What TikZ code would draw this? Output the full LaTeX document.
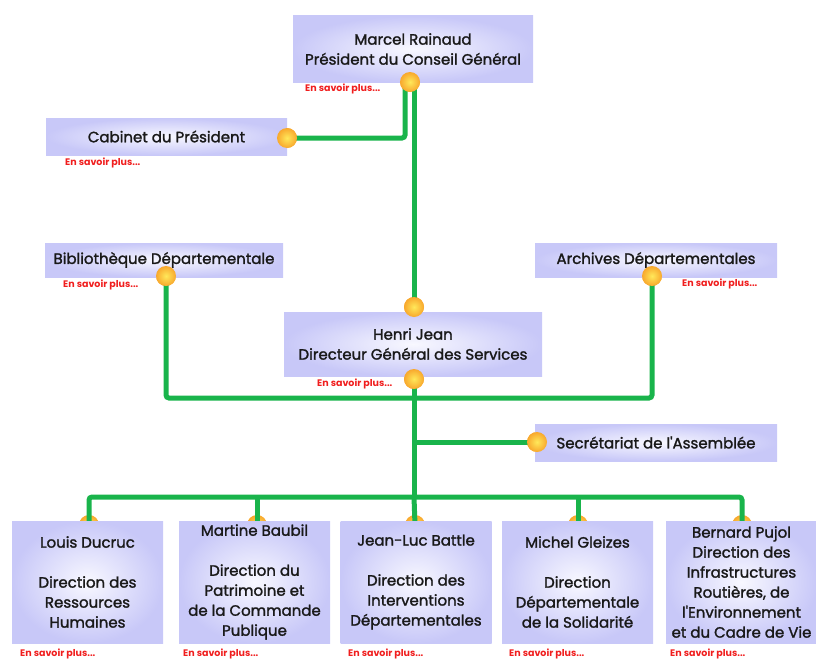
\documentclass[tikz,border=0pt]{standalone}
\usepackage{fontspec}
\setmainfont{Poppins}
\newfontfamily\cardfont{Poppins}[FakeBold=1.6]
\usepackage{tikz}
\usetikzlibrary{calc}
\definecolor{wiregreen}{RGB}{25,180,75}
\definecolor{boxlav}{RGB}{200,200,248}
\definecolor{boxcore}{RGB}{248,248,255}
\definecolor{dotyellow}{RGB}{255,232,90}
\definecolor{dotorange}{RGB}{248,168,45}
\definecolor{moretext}{RGB}{240,30,30}
\definecolor{boxtext}{RGB}{25,25,25}
\tikzstyle{card} = [rectangle, shading=radial, inner color=boxcore, outer color=boxlav, text=boxtext, align=center, font=\cardfont\fontsize{15}{20}\selectfont, inner sep=0pt]
\tikzstyle{dot} = [circle, shading=radial, inner color=dotyellow, outer color=dotorange, minimum size=20pt, inner sep=0pt]
\tikzstyle{wire} = [line width=5pt, color=wiregreen, rounded corners=3pt]
\tikzstyle{more} = [anchor=west, text=moretext, font=\fontsize{9.5}{10}\selectfont\bfseries, inner sep=0pt]

\begin{document}
\begin{tikzpicture}[x=1pt, y=-1pt]
        \useasboundingbox (0, 0) rectangle (816, 661);

        % dots first, so the lower row of cards hides half of them
        \node[dot] at (410, 82) (RainaudDot) {};
        \node[dot] at (287, 138) (CabinetDot) {};
        \node[dot] at (166, 276) (BibliothequeDot) {};
        \node[dot] at (652, 276) (ArchivesDot) {};
        \node[dot] at (414, 307) (JeanTopDot) {};
        \node[dot] at (414, 379) (JeanBottomDot) {};
        \node[dot] at (537, 442) (SecretariatDot) {};
        \node[dot] at (89, 525) (DucrucDot) {};
        \node[dot] at (257, 525) (BaubilDot) {};
        \node[dot] at (415, 525) (BattleDot) {};
        \node[dot] at (578, 525) (GleizesDot) {};
        \node[dot] at (742, 525) (PujolDot) {};

        \draw[wire] ([xshift=-5pt]RainaudDot.center) |- (CabinetDot.center);
        \draw[wire] ([xshift=4pt]RainaudDot.center) -- (JeanTopDot.center);
        \draw[wire] (BibliothequeDot.center) -- ++(0, 122) -| (ArchivesDot.center);
        \draw[wire] (JeanBottomDot.center) -- ++(0, 118) coordinate (Bus);
        \draw[wire] (SecretariatDot.center) -- (SecretariatDot.center -| JeanBottomDot.center);
        \draw[wire] (DucrucDot.center) |- (Bus) -| (PujolDot.center);
        \draw[wire] (BaubilDot.center) -- (BaubilDot.center |- Bus);
        \draw[wire] (BattleDot.center) -- (Bus);
        \draw[wire] (GleizesDot.center) -- (GleizesDot.center |- Bus);

        \node[card, minimum width=240pt, minimum height=66pt] at (413, 49) (Rainaud) {Marcel Rainaud\\Président du Conseil Général};
        \node[card, minimum width=241pt, minimum height=37pt] at (166.5, 136.5) (Cabinet) {Cabinet du Président};
        \node[card, minimum width=238pt, minimum height=34pt] at (164, 260) (Bibliotheque) {Bibliothèque Départementale};
        \node[card, minimum width=242pt, minimum height=34pt] at (656, 260) (Archives) {Archives Départementales};
        \node[card, minimum width=258pt, minimum height=64pt] at (413, 344) (Jean) {Henri Jean\\Directeur Général des Services};
        \node[card, minimum width=242pt, minimum height=37pt] at (656, 442.5) (Secretariat) {Secrétariat de l\textquotesingle Assemblée};
        \node[card, minimum width=151pt, minimum height=122pt] at (87.5, 582) (Ducruc) {Louis Ducruc\\[20pt]Direction des\\Ressources\\Humaines};
        \node[card, minimum width=151pt, minimum height=122pt] at (254.5, 582) (Baubil) {Martine Baubil\\[20pt]Direction du\\Patrimoine et\\de la Commande\\Publique};
        \node[card, minimum width=151pt, minimum height=122pt] at (416, 582) (Battle) {Jean-Luc Battle\\[20pt]Direction des\\Interventions\\Départementales};
        \node[card, minimum width=151pt, minimum height=122pt] at (577.5, 582) (Gleizes) {Michel Gleizes\\[20pt]Direction\\Départementale\\de la Solidarité};
        \node[card, minimum width=151pt, minimum height=122pt] at (741.5, 582) (Pujol) {Bernard Pujol\\Direction des\\Infrastructures\\Routières, de\\l\textquotesingle Environnement\\et du Cadre de Vie};

        % dots that sit over the edge of their card
        \node[dot] at (410, 82) {};
        \node[dot] at (287, 138) {};
        \node[dot] at (166, 276) {};
        \node[dot] at (652, 276) {};
        \node[dot] at (414, 307) {};
        \node[dot] at (414, 379) {};
        \node[dot] at (537, 442) {};

        \node[more] at (305, 89) (RainaudMore) {En savoir plus...};
        \node[more] at (65, 163) (CabinetMore) {En savoir plus...};
        \node[more] at (63, 285) (BibliothequeMore) {En savoir plus...};
        \node[more] at (682, 284) (ArchivesMore) {En savoir plus...};
        \node[more] at (317, 384) (JeanMore) {En savoir plus...};
        \node[more] at (20, 654) (DucrucMore) {En savoir plus...};
        \node[more] at (183, 654) (BaubilMore) {En savoir plus...};
        \node[more] at (348, 654) (BattleMore) {En savoir plus...};
        \node[more] at (509, 654) (GleizesMore) {En savoir plus...};
        \node[more] at (670, 654) (PujolMore) {En savoir plus...};
    \end{tikzpicture}
\end{document}
